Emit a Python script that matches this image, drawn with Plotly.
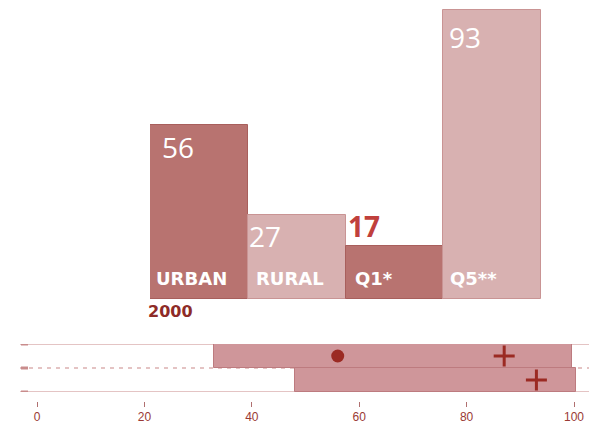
import plotly.graph_objects as go

# ---- data ----
categories = ["URBAN", "RURAL", "Q1*", "Q5**"]
values = [56, 27, 17, 93]
year_label = "2000"

range_rows = [1, 2]
range_start = [33, 48]
range_end = [99.6, 100.3]
dot_row = [1]
dot_value = [56]
plus_rows = [1, 2]
plus_values = [87, 93]
tick_vals = [0, 20, 40, 60, 80, 100]

W, H = 589, 425
PX_PER_UNIT = 3.108
BAR_HALF = (541 - 150) / 8.0

dark = "#b87370"
light = "#d8b1b1"
dark_line = "#a85f5c"
light_line = "#c99494"
bar_fill = [dark, light, dark, light]
bar_line = [dark_line, light_line, dark_line, light_line]

fig = go.Figure()

fig.add_trace(go.Bar(
    x=categories, y=values, width=1.0,
    marker=dict(color=bar_fill, line=dict(color=bar_line, width=1)),
    xaxis="x", yaxis="y", showlegend=False, hoverinfo="skip",
))

# bottom strip: horizontal ranges
fig.add_trace(go.Bar(
    y=range_rows, base=range_start,
    x=[e - s for s, e in zip(range_start, range_end)],
    orientation="h", width=1.0,
    marker=dict(color="#cf969a", line=dict(color="#bd7b7f", width=1)),
    xaxis="x2", yaxis="y2", showlegend=False, hoverinfo="skip",
))
fig.add_trace(go.Scatter(
    x=dot_value, y=dot_row, mode="markers",
    marker=dict(symbol="circle", size=13, color="#9b2a23"),
    xaxis="x2", yaxis="y2", showlegend=False, hoverinfo="skip",
))
fig.add_trace(go.Scatter(
    x=plus_values, y=plus_rows, mode="markers",
    marker=dict(symbol="cross-thin", size=15, color="#9b2a23",
                line=dict(color="#9b2a23", width=3)),
    xaxis="x2", yaxis="y2", showlegend=False, hoverinfo="skip",
))

annotations = []
# label styling offsets (pixels)
num_left = [13, 2, 4, 7]           # left inset from bar edge
num_dy = [-23, -22, 19, -28]       # vertical offset of number centre from bar top
cat_left = [6, 8, 10, 7]
for i, (c, v) in enumerate(zip(categories, values)):
    is_q1 = c == "Q1*"
    annotations.append(dict(
        x=c, y=v, xref="x", yref="y",
        text=f"<b>{v}</b>" if is_q1 else str(v),
        showarrow=False, xanchor="left", yanchor="middle",
        xshift=-BAR_HALF + num_left[i] - 3, yshift=num_dy[i] + 1,
        font=dict(family="Open Sans", size=28,
                  color="#c0403c" if is_q1 else "white")))
    annotations.append(dict(
        x=c, y=0, xref="x", yref="y", text=f"<b>{c}</b>",
        showarrow=False, xanchor="left", yanchor="middle",
        xshift=-BAR_HALF + cat_left[i] - 2, yshift=21,
        font=dict(family="DejaVu Sans", size=18, color="white")))

annotations.append(dict(
    x=categories[0], y=0, xref="x", yref="y", text=f"<b>{year_label}</b>",
    showarrow=False, xanchor="left", yanchor="middle",
    xshift=-BAR_HALF - 4, yshift=-12,
    font=dict(family="DejaVu Sans", size=16, color="#8e2b27")))

shapes = []
line_col = "#dbb0b0"
for yv, dash in [(0.5, "solid"), (1.5, "4px,5px"), (2.5, "solid")]:
    shapes.append(dict(type="line", xref="paper", yref="y2", x0=20 / W, x1=1,
                       y0=yv, y1=yv, layer="below",
                       line=dict(color=line_col, width=1.5, dash=dash)))
    shapes.append(dict(type="line", xref="paper", yref="y2", x0=21 / W, x1=28 / W,
                       y0=yv, y1=yv, layer="below",
                       line=dict(color="#c98c8c", width=3)))

x_lo = (20 - 37) / 5.37
x_hi = (589 - 37) / 5.37

fig.update_layout(
    width=W, height=H,
    margin=dict(l=0, r=0, t=0, b=0, autoexpand=False),
    paper_bgcolor="white", plot_bgcolor="rgba(0,0,0,0)",
    bargap=0,
    xaxis=dict(domain=[150 / W, 541 / W], range=[-0.5, 3.5], visible=False,
               anchor="y"),
    yaxis=dict(domain=[1 - 299 / H, 1], range=[0, 299 / PX_PER_UNIT], visible=False,
               anchor="x"),
    xaxis2=dict(domain=[20 / W, 1], range=[x_lo, x_hi], anchor="free",
                position=1 - 401 / H, showgrid=False, zeroline=False,
                showline=False, tickvals=tick_vals, ticks="outside",
                ticklen=5, tickwidth=1.2, tickcolor="#b07070", automargin=False,
                tickfont=dict(family="Liberation Sans Narrow, Liberation Sans",
                              size=12, color="#9a3a35")),
    yaxis2=dict(domain=[1 - 392 / H, 1 - 344 / H], range=[2.5, 0.5],
                visible=False, anchor="x2"),
    annotations=annotations,
    shapes=shapes,
)

fig.write_html("out.html", config={"displayModeBar": False},
               post_script="document.body.style.margin='0';document.body.style.padding='0';")
